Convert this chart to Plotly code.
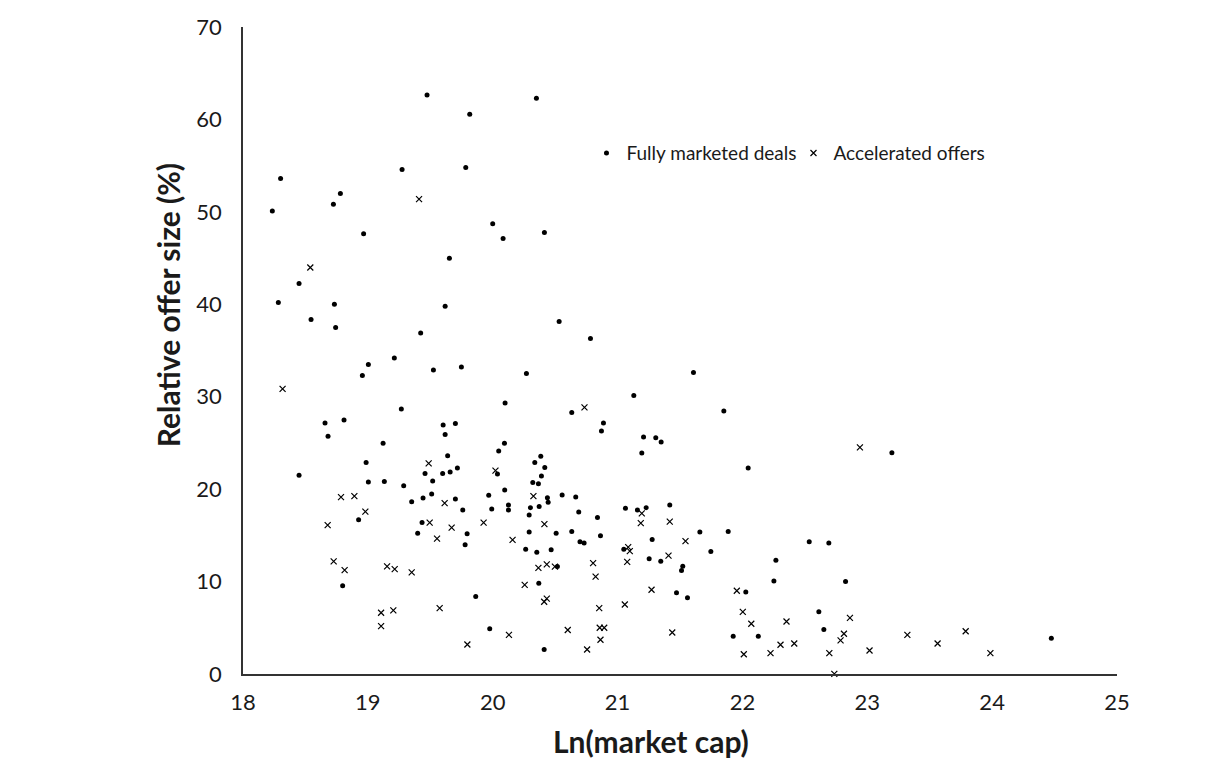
import plotly.graph_objects as go

# Fully marketed deals
fm_x = [19.474, 20.350, 19.816, 18.301, 19.274, 19.784, 18.780, 18.724, 18.235, 20.000,
        20.083, 18.966, 20.414, 19.653, 18.449, 18.283, 18.732, 19.619, 18.545, 18.742,
        19.423, 20.532, 20.783, 19.212, 19.004, 19.525, 19.749, 18.956, 20.270, 21.608,
        20.099, 19.268, 21.130, 20.633, 21.851, 18.657, 18.809, 18.681, 19.603, 19.701,
        19.619, 20.887, 20.871, 19.122, 20.094, 20.048, 21.208, 21.306, 21.349, 21.194,
        19.639, 20.385, 20.337, 20.417, 20.390, 22.046, 18.986, 18.449, 19.458, 19.599,
        19.659, 19.717, 20.038, 19.519, 19.004, 19.132, 19.287, 20.321, 20.366, 19.351,
        19.442, 19.511, 19.701, 19.760, 19.968, 20.096, 19.992, 20.126, 20.126, 20.302,
        20.372, 20.292, 20.438, 20.444, 20.556, 20.665, 20.689, 20.839, 21.063, 21.159,
        21.229, 21.418, 18.926, 19.434, 19.399, 19.795, 19.779, 20.292, 20.264, 20.353,
        20.468, 20.508, 20.633, 20.699, 20.732, 20.863, 21.277, 21.659, 21.886, 22.535,
        22.692, 21.050, 21.747, 20.518, 21.253, 21.346, 21.522, 21.512, 22.268, 18.798,
        20.369, 21.472, 21.560, 22.252, 22.027, 22.826, 19.864, 19.976, 22.612, 22.652,
        21.926, 22.127, 20.412, 23.197, 24.474]
fm_y = [62.63, 62.28, 60.55, 53.62, 54.59, 54.81, 51.99, 50.83, 50.08, 48.70,
        47.12, 47.62, 47.77, 44.99, 42.25, 40.19, 40.01, 39.79, 38.35, 37.48,
        36.90, 38.13, 36.29, 34.19, 33.48, 32.89, 33.22, 32.29, 32.50, 32.61,
        29.32, 28.67, 30.12, 28.28, 28.45, 27.15, 27.48, 25.71, 26.94, 27.09,
        25.90, 27.15, 26.29, 24.96, 24.96, 24.12, 25.64, 25.57, 25.10, 23.91,
        23.62, 23.55, 22.87, 22.33, 21.42, 22.28, 22.87, 21.49, 21.68, 21.68,
        21.85, 22.28, 21.63, 20.87, 20.77, 20.84, 20.38, 20.73, 20.59, 18.64,
        19.03, 19.47, 18.93, 17.74, 19.33, 19.90, 17.84, 18.28, 17.74, 18.00,
        18.11, 17.19, 19.06, 18.57, 19.36, 19.14, 17.52, 16.94, 17.92, 17.74,
        18.00, 18.28, 16.70, 16.40, 15.24, 15.18, 13.99, 15.35, 13.51, 13.16,
        13.45, 15.24, 15.43, 14.31, 14.18, 14.97, 14.56, 15.35, 15.43, 14.31,
        14.16, 13.51, 13.26, 11.64, 12.47, 12.21, 11.67, 11.21, 12.32, 9.55,
        9.83, 8.79, 8.25, 10.05, 8.86, 10.02, 8.39, 4.89, 6.73, 4.82,
        4.09, 4.09, 2.65, 23.95, 3.88]

# Accelerated offers
ao_x = [19.410, 18.539, 18.317, 20.735, 19.487, 20.022, 18.785, 18.892, 18.980, 18.678,
        19.615, 20.326, 19.495, 19.671, 19.927, 19.554, 20.159, 20.414, 21.194, 21.186,
        21.418, 21.544, 21.085, 21.098, 18.726, 18.814, 19.154, 19.215, 19.351, 20.366,
        20.433, 20.498, 20.804, 21.077, 21.408, 20.824, 20.256, 21.272, 21.955, 20.433,
        20.412, 20.853, 21.058, 22.003, 22.071, 22.353, 22.861, 22.813, 22.786, 23.321,
        23.018, 23.563, 23.788, 23.986, 22.941, 19.106, 19.204, 19.575, 19.106, 20.130,
        19.797, 20.601, 20.857, 20.893, 20.863, 21.438, 20.756, 22.011, 22.225, 22.305,
        22.415, 22.696, 22.736]
ao_y = [51.38, 43.98, 30.84, 28.85, 22.79, 22.00, 19.14, 19.25, 17.56, 16.11,
        18.48, 19.25, 16.37, 15.83, 16.37, 14.64, 14.51, 16.22, 17.38, 16.33,
        16.48, 14.38, 13.73, 13.30, 12.18, 11.24, 11.64, 11.35, 10.99, 11.48,
        11.86, 11.62, 12.00, 12.13, 12.80, 10.53, 9.64, 9.12, 9.01, 8.15,
        7.82, 7.12, 7.52, 6.73, 5.44, 5.68, 6.08, 4.35, 3.63, 4.24,
        2.54, 3.30, 4.63, 2.25, 24.52, 6.63, 6.88, 7.12, 5.18, 4.24,
        3.19, 4.76, 5.00, 5.00, 3.71, 4.49, 2.65, 2.14, 2.25, 3.16,
        3.30, 2.25, 0.02]

x_ticks = [18, 19, 20, 21, 22, 23, 24, 25]
y_ticks = [0, 10, 20, 30, 40, 50, 60, 70]

FONT = "Lato, 'Open Sans', sans-serif"

fig = go.Figure()
fig.add_trace(go.Scatter(
    x=fm_x, y=fm_y, mode="markers", name="Fully marketed deals",
    marker=dict(symbol="circle", size=5, color="black"),
    cliponaxis=False,
))
fig.add_trace(go.Scatter(
    x=ao_x, y=ao_y, mode="markers", name="Accelerated offers",
    marker=dict(symbol="x-thin", size=6, color="black",
                line=dict(width=1.2, color="black")),
    cliponaxis=False,
))

fig.update_layout(
    width=1230, height=768,
    margin=dict(l=243, r=113, t=27, b=94),
    plot_bgcolor="white", paper_bgcolor="white",
    font=dict(family=FONT, color="#1a1a1a", size=18),
    showlegend=True,
    legend=dict(orientation="h", x=0.393, y=0.805, xanchor="left", yanchor="middle",
                font=dict(size=19, family=FONT, color="#1a1a1a"),
                itemwidth=30, entrywidth=162, bgcolor="rgba(0,0,0,0)"),
    xaxis=dict(range=[18, 25], tickvals=x_ticks, ticktext=[str(v) for v in x_ticks],
               showgrid=False, zeroline=False, showline=True, linecolor="#333",
               linewidth=1.5, ticks="", ticklabelstandoff=8,
               tickfont=dict(size=22, family=FONT, color="#1a1a1a")),
    yaxis=dict(range=[0, 70], tickvals=y_ticks, ticktext=[str(v) for v in y_ticks],
               showgrid=False, zeroline=False, showline=True, linecolor="#333",
               linewidth=1.5, ticks="", ticklabelstandoff=15,
               tickfont=dict(size=22, family=FONT, color="#1a1a1a")),
    annotations=[
        dict(text="<b>Ln(market cap)</b>", xref="paper", yref="paper",
             x=0.4668, y=-0.103, xanchor="center", yanchor="middle", showarrow=False,
             font=dict(size=30, family=FONT, color="#1a1a1a")),
        dict(text="<b>Relative offer size (%)</b>", xref="paper", yref="paper",
             x=-0.0858, y=0.570, xanchor="center", yanchor="middle", showarrow=False,
             textangle=-90, font=dict(size=30, family=FONT, color="#1a1a1a")),
    ],
)

fig.write_html("out.html")
